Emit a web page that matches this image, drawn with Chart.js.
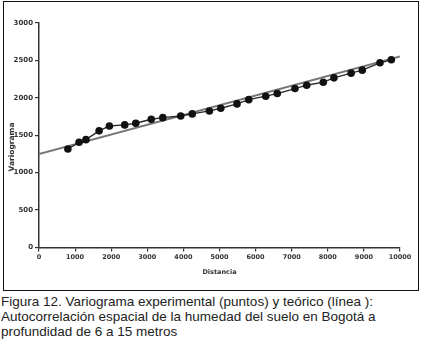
<!DOCTYPE html>
<html>
<head>
<meta charset="utf-8">
<script src="https://cdn.jsdelivr.net/npm/chart.js@4.4.1/dist/chart.umd.min.js"></script>
<style>
    body { margin: 0; background: #fff; width: 422px; height: 350px; position: relative; overflow: hidden; }
    #caja { position: absolute; left: 3px; top: 1px; width: 416px; height: 290px; box-sizing: border-box; border: 1px solid #111; }
    #caja canvas { display: block; }
    #pie { position: absolute; left: 1px; top: 294px; width: 421px; font-family: "Liberation Sans", Arial, sans-serif; font-size: 13.5px; line-height: 15px; color: #222; white-space: nowrap; }
</style>
</head>
<body>
<div id="caja"><canvas id="chartVariograma" width="414" height="288"></canvas></div>
<div id="pie">Figura 12. Variograma experimental (puntos) y teórico (línea ):<br>Autocorrelación espacial de la humedad del suelo en Bogotá a<br>profundidad de 6 a 15 metros</div>
<script>
// variograma experimental (puntos)
const distancias = [800, 1110, 1300, 1665, 1950, 2375, 2680, 3110, 3430, 3925, 4245, 4720, 5035, 5485, 5810, 6280, 6600, 7090, 7415, 7875, 8170, 8645, 8955, 9445, 9760];
const semivarianza = [1316, 1406, 1441, 1559, 1624, 1638, 1660, 1714, 1735, 1758, 1785, 1825, 1861, 1919, 1976, 2022, 2057, 2124, 2169, 2209, 2267, 2330, 2370, 2468, 2508];

// modelo teorico (linea)
const modeloX = [0, 10000];
const modeloY = [1249, 2552];

const ticksX = [0, 1000, 2000, 3000, 4000, 5000, 6000, 7000, 8000, 9000, 10000];
const ticksY = [0, 500, 1000, 1500, 2000, 2500, 3000];

const puntosExp = distancias.map((d, i) => ({ x: d, y: semivarianza[i] }));
const puntosTeo = modeloX.map((d, i) => ({ x: d, y: modeloY[i] }));

// titulo del eje y, dibujado a mano para poder ubicarlo igual que el original
const tituloY = {
    id: 'tituloY',
    afterDraw(chart) {
        const c = chart.ctx;
        c.save();
        c.translate(8, 145);
        c.rotate(-Math.PI / 2);
        c.font = 'bold 7.5px "DejaVu Sans"';
        c.fillStyle = '#333';
        c.textAlign = 'center';
        c.textBaseline = 'middle';
        c.fillText('Variograma', 0, 0);
        c.restore();
    }
};

const ctx = document.getElementById('chartVariograma').getContext('2d');

new Chart(ctx, {
    type: 'scatter',
    data: {
        datasets: [{
            label: 'Experimental',
            data: puntosExp,
            showLine: true,
            borderColor: '#2a2a2a',
            borderWidth: 1.4,
            backgroundColor: '#111',
            pointRadius: 3.8,
            pointBorderWidth: 0,
            pointBackgroundColor: '#111'
        }, {
            label: 'Teórico',
            data: puntosTeo,
            showLine: true,
            borderColor: '#777',
            borderWidth: 2,
            pointRadius: 0
        }]
    },
    options: {
        responsive: false,
        animation: false,
        layout: {
            padding: { left: 0, right: 18, top: 21, bottom: 0 }
        },
        scales: {
            x: {
                type: 'linear',
                min: 0,
                max: 10000,
                afterFit: function (scale) { scale.height = 42.5; },
                afterBuildTicks: function (scale) { scale.ticks = ticksX.map(v => ({ value: v })); },
                grid: { drawOnChartArea: false, drawTicks: true, tickLength: 4, color: '#333', lineWidth: 1.2 },
                border: { display: true, color: '#333', width: 1.5 },
                ticks: {
                    autoSkip: false,
                    maxRotation: 0,
                    padding: 2,
                    color: '#333',
                    font: { family: 'DejaVu Sans', weight: 'bold', size: 6.5 },
                    callback: function (value) { return String(value); }
                },
                title: {
                    display: true,
                    text: 'Distancia',
                    color: '#333',
                    padding: { top: 0, bottom: 13.5 },
                    font: { family: 'DejaVu Sans', weight: 'bold', size: 6.5 }
                }
            },
            y: {
                type: 'linear',
                min: 0,
                max: 3000,
                afterFit: function (scale) { scale.width = 35; },
                afterBuildTicks: function (scale) { scale.ticks = ticksY.map(v => ({ value: v })); },
                grid: { drawOnChartArea: false, drawTicks: true, tickLength: 4, color: '#333', lineWidth: 1.2 },
                border: { display: true, color: '#333', width: 1.5 },
                ticks: {
                    padding: 2,
                    color: '#333',
                    font: { family: 'DejaVu Sans', weight: 'bold', size: 7 },
                    callback: function (value) { return String(value); }
                }
            }
        },
        plugins: {
            legend: { display: false },
            tooltip: { enabled: false }
        }
    },
    plugins: [tituloY]
});
</script>
</body>
</html>
